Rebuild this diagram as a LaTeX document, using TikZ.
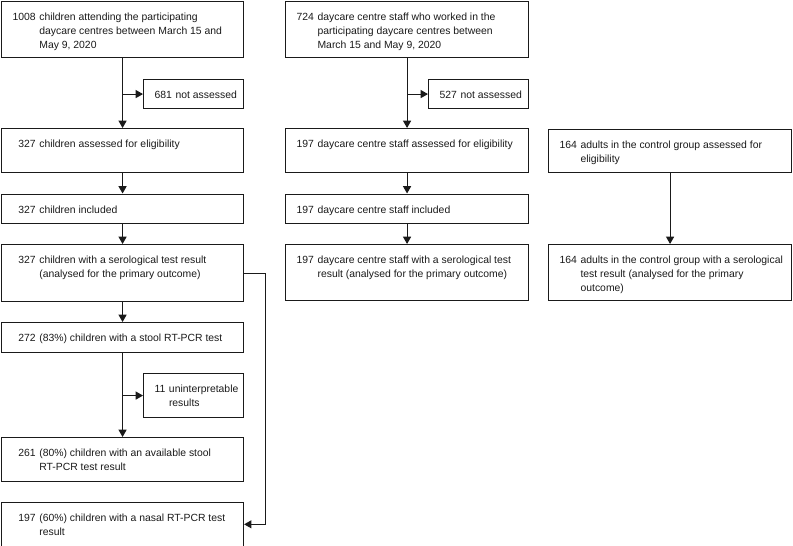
\documentclass[tikz,border=0pt]{standalone}
\usepackage{fontspec}
\setmainfont{Liberation Sans}
\usetikzlibrary{arrows.meta}
\definecolor{flowink}{HTML}{1A1A1A}

%% one pixel of the layout grid
\newlength{\px}
\setlength{\px}{0.75pt}
\newlength{\numcol}
%% box text: the number hangs, its lines run on under the words after it
\newcommand{\stagetext}[5]{%
  \settowidth{\numcol}{#3}%
  \parbox[c][#2\px][t]{#1\px}{\rule{0pt}{19\px}\hspace*{11\px}\makebox[\numcol][r]{#4}\hspace{0.35em}%
    \parbox[t]{\dimexpr#1\px-11\px-\numcol-0.35em-1\px\relax}{\raggedright\hyphenpenalty=10000\exhyphenpenalty=10000 #5}}}

\begin{document}
\begin{tikzpicture}[x=0.75pt, y=-0.75pt, >={Triangle[length=5.5pt, width=6pt]},
                    every node/.style={flowink, font=\fontsize{7.8pt}{10.5pt}\selectfont},
                    stage/.style={draw=flowink, line width=0.85pt, anchor=north west, inner sep=0pt},
                    flow/.style={draw=flowink, line width=0.85pt, ->}]

  \useasboundingbox (0,0) rectangle (793,546);

  %% ---- children ----
  \node[stage] (kidall) at (1,0.5)
    {\stagetext{242}{56.5}{1008}{1008}{children attending the participating\\daycare centres between March 15 and\\May 9, 2020}};
  \node[stage] (kidskip) at (143,79)
    {\stagetext{100}{29}{681}{681}{not assessed}};
  \node[stage] (kidelig) at (1,128)
    {\stagetext{242}{44}{1008}{327}{children assessed for eligibility}};
  \node[stage] (kidin) at (1,193.5)
    {\stagetext{242}{29}{1008}{327}{children included}};
  \node[stage] (kidsero) at (1,244)
    {\stagetext{242}{57}{1008}{327}{children with a serological test result\\(analysed for the primary outcome)}};
  \node[stage] (kidstool) at (1,322)
    {\stagetext{242}{30}{1008}{272}{(83\%) children with a stool RT-PCR test}};
  \node[stage] (kidbad) at (143,373)
    {\stagetext{100}{44}{11}{11}{uninterpretable\\results}};
  \node[stage] (kidavail) at (1,437)
    {\stagetext{242}{44}{1008}{261}{(80\%) children with an available stool\\RT-PCR test result}};
  \node[stage] (kidnasal) at (1,502)
    {\stagetext{242}{43.5}{1008}{197}{(60\%) children with a nasal RT-PCR test\\result}};

  \draw[flow] (kidall.south) -- (kidelig.north);
  \draw[flow] (kidall.south |- kidskip.west) -- (kidskip.west);
  \draw[flow] (kidelig.south) -- (kidin.north);
  \draw[flow] (kidin.south) -- (kidsero.north);
  \draw[flow] (kidsero.south) -- (kidstool.north);
  \draw[flow] (kidstool.south) -- (kidavail.north);
  \draw[flow] (kidstool.south |- kidbad.west) -- (kidbad.west);
  \draw[flow] (kidsero.east) -- ++(21,0) |- (kidnasal.east);

  %% ---- daycare staff ----
  \node[stage] (staffall) at (285,0.5)
    {\stagetext{243}{56.5}{724}{724}{daycare centre staff who worked in the\\participating daycare centres between\\March 15 and May 9, 2020}};
  \node[stage] (staffskip) at (428,79)
    {\stagetext{100}{29}{527}{527}{not assessed}};
  \node[stage] (staffelig) at (285,128)
    {\stagetext{243}{44}{197}{197}{daycare centre staff assessed for eligibility}};
  \node[stage] (staffin) at (285,193.5)
    {\stagetext{243}{29}{197}{197}{daycare centre staff included}};
  \node[stage] (staffsero) at (285,244)
    {\stagetext{243}{56}{197}{197}{daycare centre staff with a serological test\\result (analysed for the primary outcome)}};

  \draw[flow] (staffall.south) -- (staffelig.north);
  \draw[flow] (staffall.south |- staffskip.west) -- (staffskip.west);
  \draw[flow] (staffelig.south) -- (staffin.north);
  \draw[flow] (staffin.south) -- (staffsero.north);

  %% ---- control adults ----
  \node[stage] (adultelig) at (548,129)
    {\stagetext{243}{43}{164}{164}{adults in the control group assessed for\\eligibility}};
  \node[stage] (adultsero) at (548,244)
    {\stagetext{243}{56}{164}{164}{adults in the control group with a serological\\test result (analysed for the primary\\outcome)}};

  \draw[flow] (adultelig.south) -- (adultsero.north);

\end{tikzpicture}
\end{document}
